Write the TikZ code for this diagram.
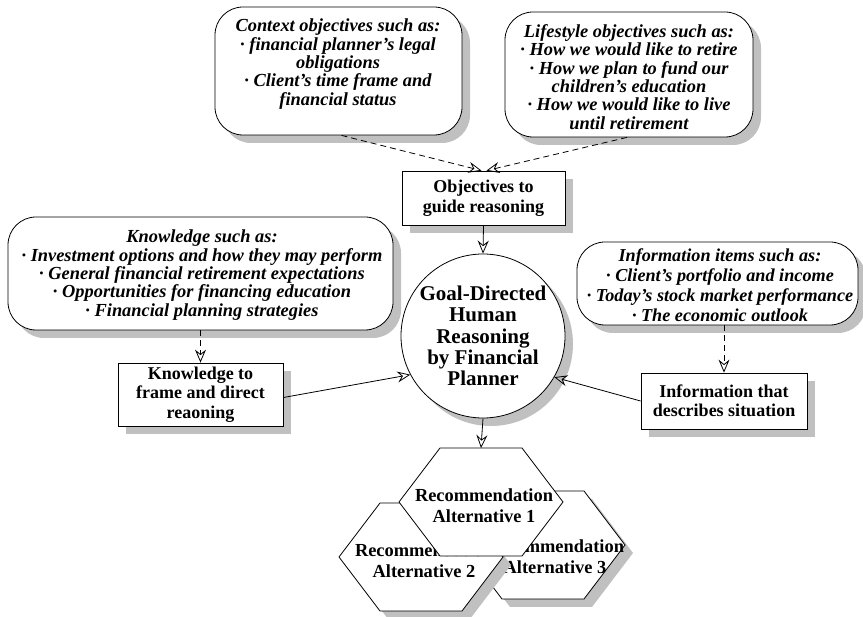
\documentclass[tikz,border=0pt]{standalone}
\usepackage{fontspec}
\setmainfont{Liberation Serif}
\usetikzlibrary{arrows.meta,shadows}
\definecolor{shadowgray}{RGB}{192,192,192}
\begin{document}
\begin{tikzpicture}[x=1pt,y=-1pt,
  dshadow/.style={drop shadow={shadow xshift=8pt,shadow yshift=-8pt,fill=shadowgray,opacity=1}},
  bubble/.style={draw,line width=0.8pt,fill=white,rounded corners=28pt,inner sep=0pt,dshadow},
  bubtext/.style={align=center,inner sep=0pt,font=\bfseries\itshape\fontsize{18.4}{18.4}\selectfont},
  boxnode/.style={draw,line width=0.8pt,fill=white,inner sep=0pt,dshadow,align=center,font=\bfseries\fontsize{18}{19.5}\selectfont},
  circnode/.style={draw,circle,line width=0.8pt,fill=white,inner sep=0pt,minimum size=164pt,dshadow,align=center,font=\bfseries\fontsize{21}{21.3}\selectfont},
  hexshape/.style={draw,line width=0.8pt,fill=white},
  hextext/.style={align=center,inner sep=0pt,font=\bfseries\fontsize{18.4}{21}\selectfont},
  conn/.style={line width=0.8pt,-{Stealth[open,length=13pt,width=11pt,inset=4.5pt]}},
  dashconn/.style={conn,dash pattern=on 6pt off 4pt}
]
\useasboundingbox (0,0) rectangle (863,617);

% bubbles
\node[bubble,minimum width=247pt,minimum height=128pt] (ctxb) at (338.5,71) {};
\node[bubtext] (ctxt) at (338,64) {Context objectives such as:\\· financial planner’s legal\\obligations\\· Client’s time frame and\\financial status};

\node[bubble,minimum width=248pt,minimum height=125pt] (lifeb) at (629,74.5) {};
\node[bubtext] (lifet) at (629,77) {Lifestyle objectives such as:\\· How we would like to retire\\· How we plan to fund our\\children’s education\\· How we would like to live\\until retirement};

\node[bubble,minimum width=385pt,minimum height=113pt] (knowb) at (200.5,273.5) {};
\node[bubtext] (knowt) at (202,275) {Knowledge such as:\\· Investment options and how they may perform\\· General financial retirement expectations\\· Opportunities for financing education\\· Financial planning strategies};

\node[bubble,minimum width=281pt,minimum height=83pt] (infob) at (717.5,283.5) {};
\node[bubtext,font=\bfseries\itshape\fontsize{18.2}{20}\selectfont] (infot) at (720,285) {Information items such as:\\· Client’s portfolio and income\\· Today’s stock market performance\\· The economic outlook};

% boxes
\node[boxnode,minimum width=163pt,minimum height=54pt] (obj) at (483.5,198) {Objectives to\\guide reasoning};
\node[boxnode,minimum width=165pt,minimum height=63pt] (kbox) at (200.5,394.5) {Knowledge to\\frame and direct\\reaoning};
\node[boxnode,minimum width=166pt,minimum height=56pt] (ibox) at (724,401) {Information that\\describes situation};

% circle
\node[circnode] (goal) at (483,336) {Goal-Directed\\Human\\Reasoning\\by Financial\\Planner};

% hexagons
\filldraw[hexshape,dshadow] (502,491) -- ++(82,0) -- ++(41,54) -- ++(-41,54) -- ++(-82,0) -- ++(-41,-54) -- cycle;
\node[hextext] (h3t) at (555,557) {Recommendation\\Alternative 3};
\filldraw[hexshape,dshadow] (380,503) -- ++(82,0) -- ++(41,54) -- ++(-41,54) -- ++(-82,0) -- ++(-41,-54) -- cycle;
\node[hextext] (h2t) at (424,561) {Recommendation\\Alternative 2};
\filldraw[hexshape] (440,448) -- ++(82,0) -- ++(41,54) -- ++(-41,54) -- ++(-82,0) -- ++(-41,-54) -- cycle;
\node[hextext] (h1t) at (484,506) {Recommendation\\Alternative 1};
\coordinate (h1top) at (481,448);

% connectors
\draw[dashconn] ([xshift=3pt]ctxb.south) -- ([xshift=-2pt]obj.north);
\draw[dashconn] ([xshift=-2pt]lifeb.south) -- ([xshift=3pt]obj.north);
\draw[conn] (obj.south) -- (goal.north);
\draw[dashconn] (knowb.south) -- (kbox.north);
\draw[dashconn] (ibox.north |- infob.south) -- (ibox.north);
\draw[conn] ([yshift=-3pt]kbox.east) -- (goal.208);
\draw[conn] (ibox.west) -- (goal.-30);
\draw[conn] (goal.south) -- (h1top);
\end{tikzpicture}
\end{document}
